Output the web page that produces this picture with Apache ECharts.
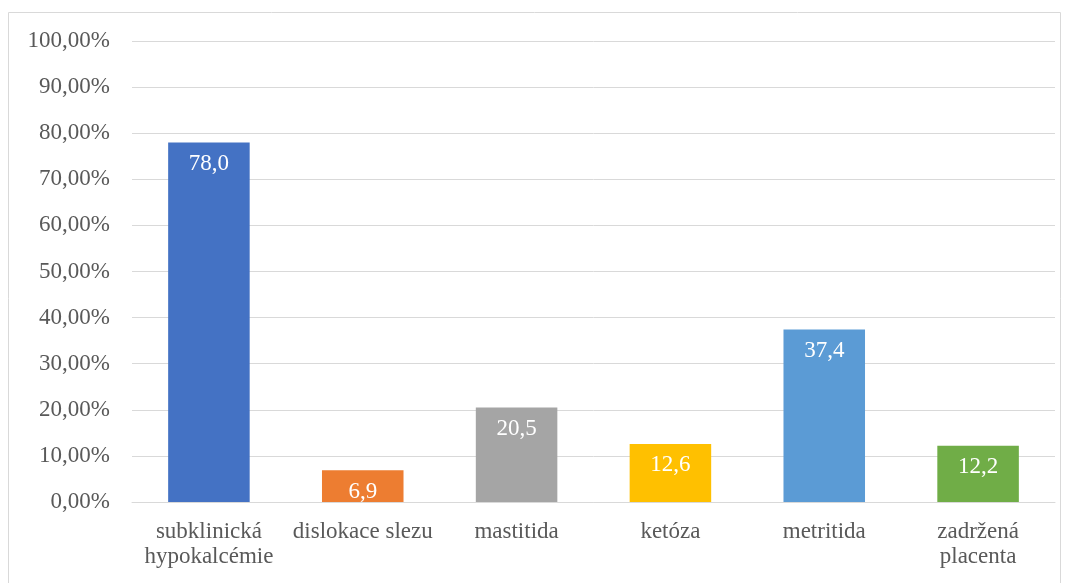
<!DOCTYPE html>
<html>
<head>
<meta charset="utf-8">
<script src="https://cdn.jsdelivr.net/npm/echarts@6/dist/echarts.min.js"></script>
<style>
  html, body { margin: 0; padding: 0; background: #fff; }
  #chart { width: 1069px; height: 583px; }
</style>
</head>
<body>
<div id="chart"></div>
<script>
const categories = ['subklinická\nhypokalcémie', 'dislokace slezu', 'mastitida', 'ketóza', 'metritida', 'zadržená\nplacenta'];
const values = [78.0, 6.9, 20.5, 12.6, 37.4, 12.2];
const barColors = ['#4472C4', '#ED7D31', '#A5A5A5', '#FFC000', '#5B9BD5', '#70AD47'];
const yTicks = { min: 0, max: 100, interval: 10 };

const fontFamily = '"Liberation Serif", "Times New Roman", serif';
const textColor = '#595959';

const chart = echarts.init(document.getElementById('chart'));
chart.setOption({
  animation: false,
  textStyle: { fontFamily: fontFamily },
  graphic: [{
    type: 'rect',
    shape: { x: 8.5, y: 12.5, width: 1052, height: 580 },
    style: { fill: 'none', stroke: '#d9d9d9', lineWidth: 1 },
    silent: true,
  }],
  grid: { left: 132, right: 14, top: 41, bottom: 81, containLabel: false },
  xAxis: {
    type: 'category',
    data: categories,
    axisLine: { lineStyle: { color: '#d9d9d9', width: 1 } },
    axisTick: { show: false },
    axisLabel: {
      color: textColor,
      fontSize: 23,
      fontFamily: fontFamily,
      margin: 17,
      lineHeight: 25,
      interval: 0,
    },
  },
  yAxis: {
    type: 'value',
    min: yTicks.min,
    max: yTicks.max,
    interval: yTicks.interval,
    axisLine: { show: false },
    axisTick: { show: false },
    splitLine: { lineStyle: { color: '#d9d9d9', width: 1 } },
    axisLabel: {
      color: textColor,
      fontSize: 23,
      fontFamily: fontFamily,
      margin: 22,
      formatter: (v) => v.toFixed(2).replace('.', ',') + '%',
    },
  },
  series: [{
    type: 'bar',
    barWidth: '53%',
    data: values.map((v, i) => ({ value: v, itemStyle: { color: barColors[i] } })),
    label: {
      show: true,
      position: 'insideTop',
      distance: 10,
      color: '#ffffff',
      fontSize: 23,
      fontFamily: fontFamily,
      formatter: (p) => p.value.toFixed(1).replace('.', ','),
    },
  }],
});
</script>
</body>
</html>
